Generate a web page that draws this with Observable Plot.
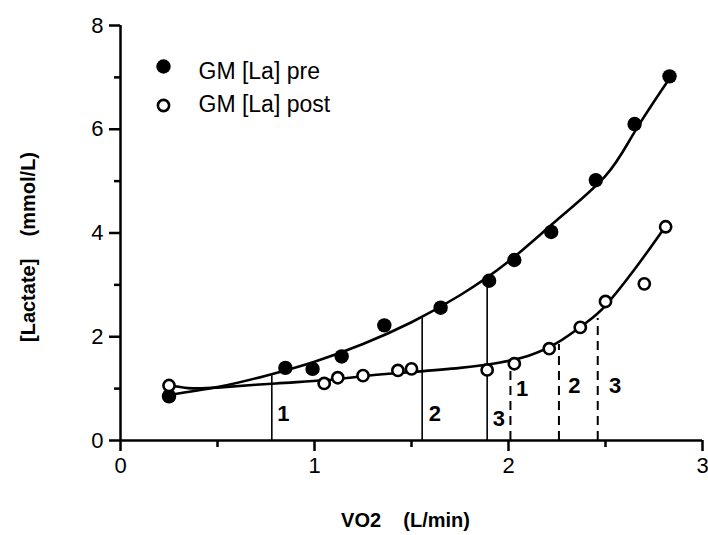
<!DOCTYPE html>
<html>
<head>
<meta charset="utf-8">
<script src="https://cdn.jsdelivr.net/npm/d3@7"></script>
<script src="https://cdn.jsdelivr.net/npm/@observablehq/plot@0.6"></script>
<style>
  html, body { margin: 0; padding: 0; background: #fff; }
  #chart svg { display: block; }
</style>
</head>
<body>
<div id="chart"></div>
<script>
// Measured points (filled = pre, open = post)
const preX  = [0.25, 0.85, 0.99, 1.14, 1.36, 1.65, 1.90, 2.03, 2.22, 2.45, 2.65, 2.83];
const preY  = [0.85, 1.40, 1.38, 1.62, 2.22, 2.56, 3.08, 3.48, 4.02, 5.02, 6.10, 7.02];
const postX = [0.25, 1.05, 1.12, 1.25, 1.43, 1.50, 1.89, 2.03, 2.21, 2.37, 2.50, 2.70, 2.81];
const postY = [1.06, 1.10, 1.21, 1.25, 1.35, 1.38, 1.36, 1.48, 1.77, 2.18, 2.68, 3.02, 4.12];

// Fitted curves
const preFitX  = [0.25, 0.50, 0.75, 1.00, 1.25, 1.50, 1.75, 2.00, 2.25, 2.50, 2.65, 2.83];
const preFitY  = [0.88, 1.03, 1.25, 1.52, 1.86, 2.28, 2.80, 3.45, 4.25, 5.10, 5.95, 6.98];
const postFitX = [0.25, 0.35, 0.50, 0.80, 1.05, 1.25, 1.50, 1.75, 1.95, 2.10, 2.25, 2.40, 2.50, 2.65, 2.80];
const postFitY = [1.07, 1.01, 1.02, 1.10, 1.16, 1.24, 1.32, 1.40, 1.50, 1.63, 1.88, 2.27, 2.60, 3.30, 4.08];

// Threshold markers
const solidX   = [0.78, 1.555, 1.89];
const solidTop = [1.25, 2.37, 3.05];
const dashedX   = [2.01, 2.26, 2.46];
const dashedTop = [1.48, 1.85, 2.35];
const solidLabels = ["1", "2", "3"];
const solidLabelX = [0.84, 1.62, 1.95];
const solidLabelY = [0.52, 0.52, 0.42];
const dashedLabels = ["1", "2", "3"];
const dashedLabelX = [2.07, 2.34, 2.55];
const dashedLabelY = [1.00, 1.05, 1.05];

// Axes
const xTicks = [0, 1, 2, 3];
const xMinor = [0.5, 1.5, 2.5];
const yTicks = [0, 2, 4, 6, 8];
const yMinor = [1, 3, 5, 7];
const legendLabels = ["GM [La] pre", "GM [La] post"];
const xTitle = "VO2\u00a0\u00a0\u00a0\u00a0(L/min)";
const yTitle = "[Lactate]\u00a0\u00a0\u00a0\u00a0(mmol/L)";

const pre  = preX.map((x, i) => ({x, y: preY[i]}));
const post = postX.map((x, i) => ({x, y: postY[i]}));
const preFit  = preFitX.map((x, i) => ({x, y: preFitY[i]}));
const postFit = postFitX.map((x, i) => ({x, y: postFitY[i]}));
const solid  = solidX.map((x, i) => ({x, top: solidTop[i], label: solidLabels[i], lx: solidLabelX[i], ly: solidLabelY[i]}));
const dashed = dashedX.map((x, i) => ({x, top: dashedTop[i], label: dashedLabels[i], lx: dashedLabelX[i], ly: dashedLabelY[i]}));

const font = "'Liberation Sans', Arial, Helvetica, sans-serif";

const chart = Plot.plot({
  width: 708,
  height: 535,
  marginLeft: 120,
  marginRight: 6,
  marginTop: 25,
  marginBottom: 95,
  style: {fontFamily: font, background: "#fff", color: "#000"},
  x: {domain: [0, 3]},
  y: {domain: [0, 8]},
  marks: [
    Plot.axisX({ticks: xTicks, tickSize: 11, tickPadding: 6, fontSize: 22, strokeWidth: 2.5, label: null, tickFormat: d => String(d)}),
    Plot.axisX({ticks: xMinor, tickSize: 7, strokeWidth: 2.5, text: null, label: null}),
    Plot.axisY({ticks: yTicks, tickSize: 11, tickPadding: 6, fontSize: 22, strokeWidth: 2.5, label: null, tickFormat: d => String(d)}),
    Plot.axisY({ticks: yMinor, tickSize: 6, strokeWidth: 2.5, text: null, label: null}),
    Plot.ruleX([0], {stroke: "#000", strokeWidth: 2.5}),
    Plot.ruleY([0], {stroke: "#000", strokeWidth: 2.5}),
    Plot.ruleX(solid, {x: "x", y1: 0, y2: "top", stroke: "#000", strokeWidth: 1.6}),
    Plot.ruleX(dashed, {x: "x", y1: 0, y2: "top", stroke: "#000", strokeWidth: 2, strokeDasharray: "9,6"}),
    Plot.text(solid, {x: "lx", y: "ly", text: "label", fontSize: 22, fontWeight: 600, fill: "#000"}),
    Plot.text(dashed, {x: "lx", y: "ly", text: "label", fontSize: 22, fontWeight: 600, fill: "#000"}),
    Plot.line(preFit, {x: "x", y: "y", curve: "natural", stroke: "#000", strokeWidth: 2.6}),
    Plot.line(postFit, {x: "x", y: "y", curve: "natural", stroke: "#000", strokeWidth: 2.6}),
    Plot.dot(pre, {x: "x", y: "y", r: 7.2, fill: "#000", stroke: "none"}),
    Plot.dot(post, {x: "x", y: "y", r: 5.6, fill: "#fff", stroke: "#000", strokeWidth: 2.6}),
    // legend
    Plot.dot([legendLabels[0]], {frameAnchor: "top-left", dx: 43, dy: 41, r: 7.2, fill: "#000", stroke: "none"}),
    Plot.dot([legendLabels[1]], {frameAnchor: "top-left", dx: 43, dy: 80, r: 5.6, fill: "#fff", stroke: "#000", strokeWidth: 2.6}),
    Plot.text([legendLabels[0]], {frameAnchor: "top-left", dx: 78, dy: 46, text: d => d, textAnchor: "start", lineAnchor: "middle", fontSize: 23, fill: "#000", style: "letter-spacing:0.8px"}),
    Plot.text([legendLabels[1]], {frameAnchor: "top-left", dx: 78, dy: 79, text: d => d, textAnchor: "start", lineAnchor: "middle", fontSize: 23, fill: "#000", style: "letter-spacing:0.8px"}),
    // axis titles
    Plot.text([xTitle], {frameAnchor: "bottom", dy: 80, dx: -6, text: d => d, textAnchor: "middle", lineAnchor: "middle", fontSize: 20, fontWeight: "bold", fill: "#000", style: "letter-spacing:1.2px"}),
    Plot.text([yTitle], {frameAnchor: "left", dx: -92, dy: 14, rotate: -90, text: d => d, textAnchor: "middle", lineAnchor: "middle", fontSize: 20, fontWeight: "bold", fill: "#000", style: "letter-spacing:1.6px"})
  ]
});
document.getElementById("chart").append(chart);
</script>
</body>
</html>
